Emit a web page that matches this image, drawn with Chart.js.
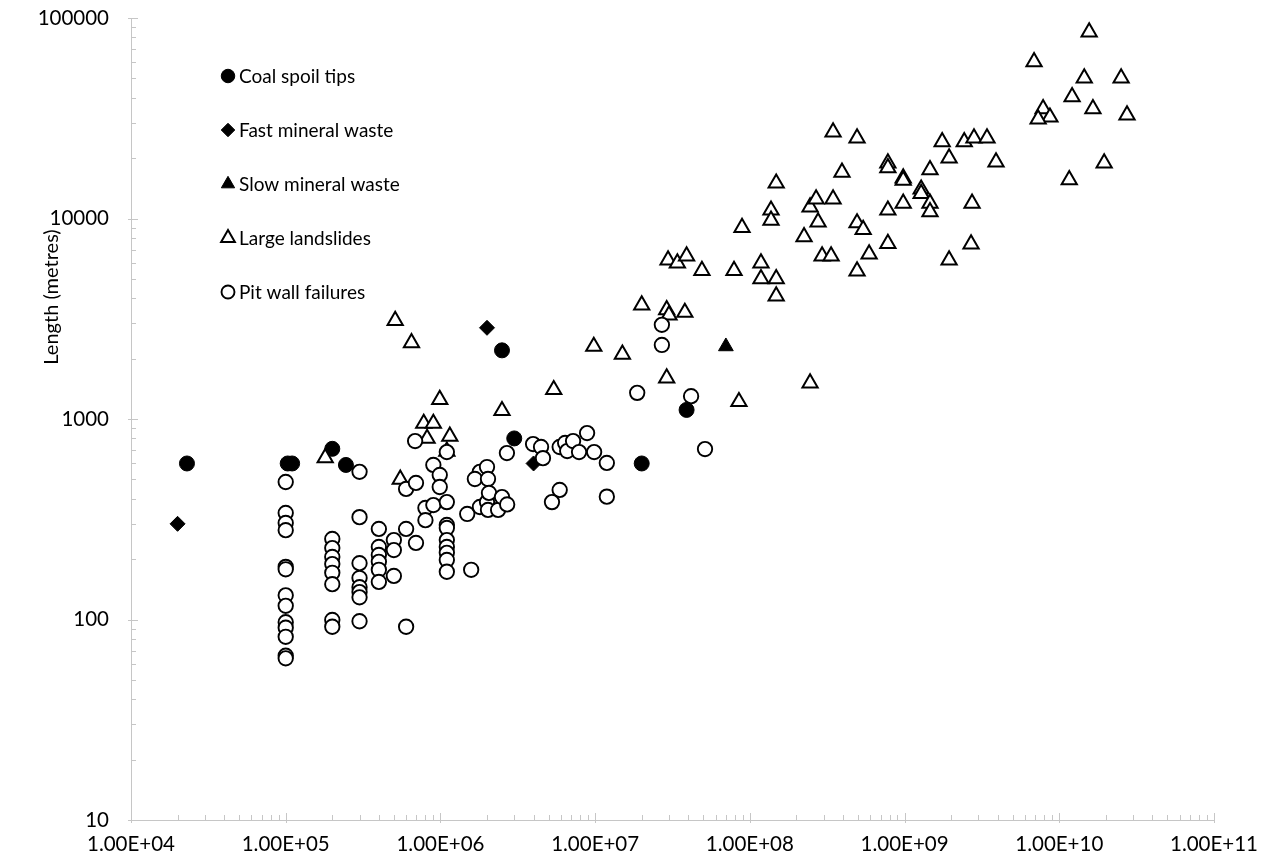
<!DOCTYPE html>
<html>
<head>
<meta charset="utf-8">
<title>Length vs volume</title>
<script src="https://cdn.jsdelivr.net/npm/chart.js@4.4.1/dist/chart.umd.min.js"></script>
<style>
  html, body { margin: 0; padding: 0; background: #ffffff; }
  canvas { display: block; }
</style>
</head>
<body>
<canvas id="chart" width="1270" height="861"></canvas>
<script>
// ---- data: [volume, length] pairs per failure type ----
const coalSpoilTips = [
  [2.3e4, 600], [1.03e5, 600], [1.1e5, 600], [2.0e5, 710], [2.45e5, 590],
  [2.5e6, 2200], [3.0e6, 800], [2.0e7, 600], [3.9e7, 1110]
];
const fastMineralWaste = [
  [2.0e4, 300], [2.0e6, 2850], [4.0e6, 600]
];
const slowMineralWaste = [
  [7.0e7, 2300]
];
const largeLandslides = [
  [1.8e5, 640], [5.1e5, 3100], [6.5e5, 2400], [5.5e5, 500], [9.9e5, 1250],
  [7.8e5, 950], [9.0e5, 950], [8.2e5, 800], [1.15e6, 820], [1.1e6, 690],
  [2.5e6, 1100], [5.4e6, 1400], [9.8e6, 2300], [1.5e7, 2100], [2.0e7, 3700],
  [2.9e7, 3500], [3.0e7, 3300], [3.8e7, 3400], [2.9e7, 1600], [8.5e7, 1220],
  [2.45e8, 1510], [2.96e7, 6200], [3.4e7, 6000], [3.9e7, 6500], [4.9e7, 5500],
  [7.9e7, 5500], [8.9e7, 9000], [1.18e8, 6000], [1.18e8, 5000], [1.48e8, 5000],
  [1.48e8, 4100], [1.37e8, 11000], [1.37e8, 9800], [1.48e8, 15000], [2.24e8, 8100],
  [2.45e8, 11400], [2.68e8, 12500], [2.76e8, 9600], [3.45e8, 12500], [2.93e8, 6500],
  [3.35e8, 6500], [3.94e8, 17000], [3.45e8, 27000], [4.93e8, 25200], [4.93e8, 5470],
  [5.9e8, 6650], [4.93e8, 9500], [5.4e8, 8800], [7.8e8, 11000], [7.8e8, 7500],
  [7.8e8, 18900], [7.8e8, 17900], [9.8e8, 15900], [9.8e8, 15500], [9.8e8, 11900],
  [1.28e9, 14000], [1.28e9, 13300], [1.46e9, 17500], [1.46e9, 11900], [1.46e9, 10800],
  [1.75e9, 24100], [1.94e9, 20000], [1.94e9, 6200], [2.43e9, 24100], [2.81e9, 25200],
  [3.41e9, 25200], [3.9e9, 19100], [2.73e9, 11900], [2.69e9, 7460],
  [1.56e10, 85000], [6.87e9, 60400], [1.45e10, 50200], [2.51e10, 50200], [1.21e10, 40400],
  [7.86e9, 35200], [8.7e9, 32000], [7.3e9, 31300], [1.65e10, 35200], [2.74e10, 32800],
  [1.95e10, 18900], [1.16e10, 15600]
];
const pitWallFailures = [
  [1e5, 485], [1e5, 340], [1e5, 303], [1e5, 279], [1e5, 183], [1e5, 178], [1e5, 132],
  [1e5, 117], [1e5, 97], [1e5, 91], [1e5, 82], [1e5, 66], [1e5, 64],
  [2e5, 252], [2e5, 227], [2e5, 205], [2e5, 189], [2e5, 171], [2e5, 150], [2e5, 99.5], [2e5, 92],
  [3e5, 545], [3e5, 324], [3e5, 191], [3e5, 161], [3e5, 145], [3e5, 137], [3e5, 129], [3e5, 98],
  [4e5, 283], [4e5, 230], [4e5, 210], [4e5, 194], [4e5, 177], [4e5, 154],
  [5e5, 249], [5e5, 222], [5e5, 165],
  [6e5, 448], [6e5, 283], [6e5, 92],
  [6.95e5, 480], [6.95e5, 241], [6.86e5, 776],
  [8e5, 360], [8e5, 313], [9e5, 372], [9e5, 590], [9.9e5, 526], [9.9e5, 458],
  [1.1e6, 385], [1.1e6, 684], [1.1e6, 296], [1.1e6, 286], [1.1e6, 249], [1.1e6, 230],
  [1.1e6, 215], [1.1e6, 198], [1.1e6, 173],
  [1.58e6, 177], [1.49e6, 336], [1.8e6, 364], [1.8e6, 545], [2.0e6, 385],
  [1.67e6, 502], [2.0e6, 576], [2.03e6, 502], [2.06e6, 428], [2.03e6, 352], [2.36e6, 352],
  [2.5e6, 408], [2.7e6, 375], [2.69e6, 676], [3.97e6, 750], [4.47e6, 725], [4.6e6, 638],
  [5.9e6, 725], [6.4e6, 759], [6.6e6, 692], [7.2e6, 776], [7.87e6, 684], [8.87e6, 851],
  [9.85e6, 684], [1.19e7, 604], [5.9e6, 443], [5.26e6, 385], [1.19e7, 410],
  [1.87e7, 1350], [2.7e7, 2950], [2.7e7, 2340], [4.17e7, 1300], [5.13e7, 708]
];

const seriesNames = ['Coal spoil tips', 'Fast mineral waste', 'Slow mineral waste', 'Large landslides', 'Pit wall failures'];

// ---- axes ----
const xTickValues = [1e4, 1e5, 1e6, 1e7, 1e8, 1e9, 1e10, 1e11];
const xTickLabels = ['1.00E+04', '1.00E+05', '1.00E+06', '1.00E+07', '1.00E+08', '1.00E+09', '1.00E+10', '1.00E+11'];
const yTickValues = [10, 100, 1000, 10000, 100000];
const yTickLabels = ['10', '100', '1000', '10000', '100000'];
const yAxisTitle = 'Length (metres)';

const FONT_FAMILY = 'Lato, "Open Sans", sans-serif';
const TEXT_COLOR = '#000000';
const AXIS_COLOR = '#c6c6c6';

const toPoints = arr => arr.map(([x, y]) => ({ x, y }));

const datasets = [
  { label: seriesNames[0], data: toPoints(coalSpoilTips), pointStyle: 'circle', pointRadius: 7.5,
    backgroundColor: '#000', borderColor: '#000', borderWidth: 1, order: 5 },
  { label: seriesNames[1], data: toPoints(fastMineralWaste), pointStyle: 'rectRot', pointRadius: 7.5,
    backgroundColor: '#000', borderColor: '#000', borderWidth: 1, order: 4 },
  { label: seriesNames[2], data: toPoints(slowMineralWaste), pointStyle: 'triangle', pointRadius: 8.5,
    backgroundColor: '#000', borderColor: '#000', borderWidth: 1, order: 3 },
  { label: seriesNames[3], data: toPoints(largeLandslides), pointStyle: 'triangle', pointRadius: 8.8,
    backgroundColor: '#fff', borderColor: '#000', borderWidth: 2, order: 2 },
  { label: seriesNames[4], data: toPoints(pitWallFailures), pointStyle: 'circle', pointRadius: 7.2,
    backgroundColor: '#fff', borderColor: '#000', borderWidth: 1.9, order: 1 }
];

// Minor / major tick marks drawn on the inner side of both axes
const innerTicks = {
  id: 'innerTicks',
  afterDraw(chart) {
    const { ctx, chartArea: a, scales: { x, y } } = chart;
    ctx.save();
    ctx.strokeStyle = AXIS_COLOR;
    ctx.lineWidth = 1;
    ctx.beginPath();
    for (let d = 4; d < 11; d++) {
      for (let k = 1; k <= 10; k++) {
        const v = k * Math.pow(10, d);
        const px = Math.round(x.getPixelForValue(v)) + 0.5;
        const major = (k === 1 || k === 10);
        ctx.moveTo(px, a.bottom + (major ? 3 : 0));
        ctx.lineTo(px, a.bottom - (major ? 7 : 5));
      }
    }
    for (let d = 1; d < 5; d++) {
      for (let k = 1; k <= 10; k++) {
        const v = k * Math.pow(10, d);
        const py = Math.round(y.getPixelForValue(v)) + 0.5;
        const major = (k === 1 || k === 10);
        ctx.moveTo(a.left - (major ? 3 : 0), py);
        ctx.lineTo(a.left + (major ? 7 : 5), py);
      }
    }
    ctx.stroke();
    ctx.restore();
  }
};

// Legend placed inside the plot area, one entry per row
const insetLegend = {
  id: 'insetLegend',
  afterDraw(chart) {
    const { ctx } = chart;
    const left = 228, top = 76, rowGap = 54;
    ctx.save();
    ctx.font = '19px ' + FONT_FAMILY;
    ctx.textBaseline = 'middle';
    ctx.textAlign = 'left';
    chart.data.datasets.forEach((ds, i) => {
      const cy = top + i * rowGap;
      ctx.fillStyle = ds.backgroundColor;
      ctx.strokeStyle = ds.borderColor;
      ctx.lineWidth = ds.borderWidth;
      Chart.helpers.drawPoint(ctx, { pointStyle: ds.pointStyle, radius: ds.pointRadius * 0.9, borderWidth: ds.borderWidth, rotation: 0 }, left, cy);
      ctx.fillStyle = TEXT_COLOR;
      ctx.fillText(ds.label, left + 11, cy + 1);
    });
    ctx.restore();
  }
};

// Vertical axis title
const yTitle = {
  id: 'yTitle',
  afterDraw(chart) {
    const { ctx } = chart;
    ctx.save();
    ctx.translate(52, 297);
    ctx.rotate(-Math.PI / 2);
    ctx.font = '20px ' + FONT_FAMILY;
    ctx.fillStyle = TEXT_COLOR;
    ctx.textAlign = 'center';
    ctx.textBaseline = 'middle';
    ctx.fillText(yAxisTitle, 0, 0);
    ctx.restore();
  }
};

new Chart(document.getElementById('chart'), {
  type: 'scatter',
  data: { datasets },
  options: {
    responsive: false,
    animation: false,
    events: [],
    layout: { padding: { top: 18, right: 56, left: 0, bottom: 0 } },
    plugins: { legend: { display: false }, tooltip: { enabled: false } },
    scales: {
      x: {
        type: 'logarithmic', min: 1e4, max: 1e11, position: 'bottom',
        afterBuildTicks: s => { s.ticks = xTickValues.map(v => ({ value: v })); },
        afterFit: s => { s.height = 41; s.paddingLeft = 0; s.paddingRight = 0; },
        ticks: {
          callback: (v, i) => xTickLabels[i],
          autoSkip: false, maxRotation: 0, minRotation: 0, padding: 12,
          color: TEXT_COLOR, font: { family: FONT_FAMILY, size: 20.5 }
        },
        grid: { display: true, drawOnChartArea: false, drawTicks: false },
        border: { display: true, color: AXIS_COLOR, width: 1 }
      },
      y: {
        type: 'logarithmic', min: 10, max: 100000, position: 'left',
        afterBuildTicks: s => { s.ticks = yTickValues.map(v => ({ value: v })); },
        afterFit: s => { s.width = 131; s.paddingTop = 0; s.paddingBottom = 0; },
        ticks: {
          callback: (v, i) => yTickLabels[i],
          autoSkip: false, padding: 22,
          color: TEXT_COLOR, font: { family: FONT_FAMILY, size: 20.5 }
        },
        grid: { display: true, drawOnChartArea: false, drawTicks: false },
        border: { display: true, color: AXIS_COLOR, width: 1 }
      }
    }
  },
  plugins: [innerTicks, insetLegend, yTitle]
});
</script>
</body>
</html>
